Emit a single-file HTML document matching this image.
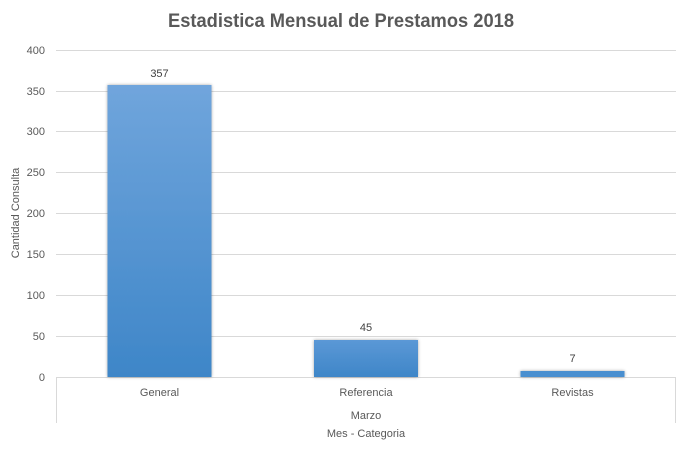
<!DOCTYPE html>
<html><head><meta charset="utf-8"><style>
html,body{margin:0;padding:0;background:#fff;}
svg{display:block;font-family:"Liberation Sans",sans-serif;}
</style></head><body>
<svg width="682" height="453" viewBox="0 0 682 453" xmlns="http://www.w3.org/2000/svg">
<defs>
<linearGradient id="g" x1="0" y1="0" x2="0" y2="1">
<stop offset="0" stop-color="#70a5dc"/>
<stop offset="1" stop-color="#3e86c8"/>
</linearGradient>
<linearGradient id="g2" x1="0" y1="0" x2="0" y2="1">
<stop offset="0" stop-color="#5b98d6"/>
<stop offset="1" stop-color="#3e86c8"/>
</linearGradient>
<filter id="sh" x="-10%" y="-10%" width="120%" height="120%">
<feGaussianBlur in="SourceAlpha" stdDeviation="1.5"/>
<feOffset dx="0" dy="0" result="b"/>
<feComponentTransfer><feFuncA type="linear" slope="0.35"/></feComponentTransfer>
<feMerge><feMergeNode/><feMergeNode in="SourceGraphic"/></feMerge>
</filter>
</defs>
<rect width="682" height="453" fill="#fff"/>
<text x="341" y="27" text-anchor="middle" font-size="19" font-weight="bold" fill="#595959" textLength="346" lengthAdjust="spacingAndGlyphs">Estadistica Mensual de Prestamos 2018</text>
<g stroke="#d9d9d9" stroke-width="1">
<line x1="56" y1="50.5" x2="676" y2="50.5"/>
<line x1="56" y1="91.5" x2="676" y2="91.5"/>
<line x1="56" y1="131.5" x2="676" y2="131.5"/>
<line x1="56" y1="172.5" x2="676" y2="172.5"/>
<line x1="56" y1="213.5" x2="676" y2="213.5"/>
<line x1="56" y1="254.5" x2="676" y2="254.5"/>
<line x1="56" y1="295.5" x2="676" y2="295.5"/>
<line x1="56" y1="336.5" x2="676" y2="336.5"/>
<line x1="56" y1="377.5" x2="676" y2="377.5"/>
<line x1="56.5" y1="377" x2="56.5" y2="423"/>
<line x1="675.5" y1="377" x2="675.5" y2="423"/>
</g>
<g font-size="11" fill="#595959" text-anchor="end">
<text x="45" y="54">400</text>
<text x="45" y="95">350</text>
<text x="45" y="135">300</text>
<text x="45" y="176">250</text>
<text x="45" y="217">200</text>
<text x="45" y="258">150</text>
<text x="45" y="299">100</text>
<text x="45" y="340">50</text>
<text x="45" y="381">0</text>
</g>
<text transform="translate(19,213) rotate(-90)" text-anchor="middle" font-size="11" fill="#595959">Cantidad Consulta</text>
<g filter="url(#sh)">
<rect x="107.5" y="85" width="104" height="292" fill="url(#g)"/>
<rect x="314" y="340" width="104" height="37" fill="url(#g2)"/>
<rect x="520.5" y="371" width="104" height="6" fill="#4a8fd0"/>
</g>
<g font-size="11" fill="#404040" text-anchor="middle">
<text x="159.5" y="77">357</text>
<text x="366" y="331">45</text>
<text x="572.5" y="362">7</text>
</g>
<g font-size="11" fill="#595959" text-anchor="middle">
<text x="159.5" y="396">General</text>
<text x="366" y="396">Referencia</text>
<text x="572.5" y="396">Revistas</text>
<text x="366" y="419">Marzo</text>
<text x="366" y="437">Mes - Categoria</text>
</g>
</svg>
</body></html>
